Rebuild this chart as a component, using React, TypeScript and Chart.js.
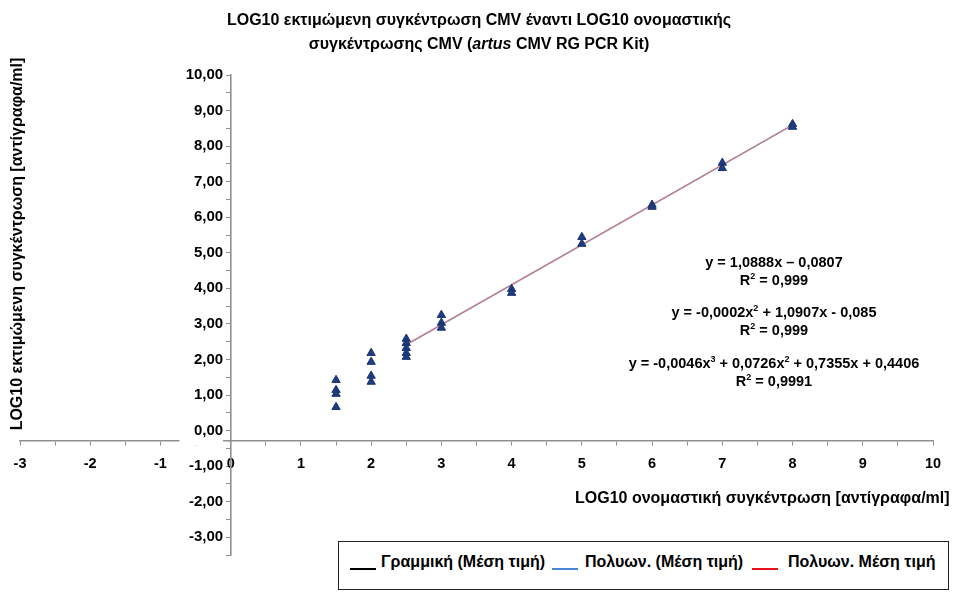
import React, { useEffect, useRef } from "react";
import { Chart, registerables } from "chart.js";

Chart.register(...registerables);

// ---- data ----
const nominalLog = [1.5, 2, 2.5, 3, 4, 5, 6, 7, 8];
const measuredLog = [
  [1.42, 1.14, 1.03, 0.66],
  [2.18, 1.93, 1.54, 1.37],
  [2.58, 2.46, 2.32, 2.18, 2.07],
  [3.25, 3.03, 2.89],
  [3.98, 3.87],
  [5.44, 5.25],
  [6.35, 6.29],
  [7.53, 7.38],
  [8.62, 8.54],
];
const trendX = [2.5, 8];
const linearFit = [2.41, 8.59];
const poly2Fit = [2.41, 8.59];
const poly3Fit = [2.42, 8.6];

const xTickLabels = ["-3", "-2", "-1", "0", "1", "2", "3", "4", "5", "6", "7", "8", "9", "10"];
const yTickLabels = [
  "-3,00", "-2,00", "-1,00", "0,00", "1,00", "2,00", "3,00",
  "4,00", "5,00", "6,00", "7,00", "8,00", "9,00", "10,00",
];
const legendLabels = ["Γραμμική (Μέση τιμή)", "Πολυων. (Μέση τιμή)", "Πολυων. Μέση τιμή"];
const legendColors = ["#000000", "#4a86d8", "#e8141b"];
const equations = [
  ["y = 1,0888x – 0,0807", "0,999"],
  ["y = -0,0002x² + 1,0907x - 0,085", "0,999"],
  ["y = -0,0046x³ + 0,0726x² + 0,7355x + 0,4406", "0,9991"],
];

const FONT = '"Liberation Sans", Arial, Helvetica, sans-serif';
const AXIS_COLOR = "#8f8f8f";

const axisGapPlugin = {
  id: "axisGap",
  afterDraw(chart: any) {
    const xs = chart.scales.x;
    const ys = chart.scales.y;
    const ctx = chart.ctx;
    const py = ys.getPixelForValue(-0.3);
    const x1 = xs.getPixelForValue(-0.73);
    const x2 = xs.getPixelForValue(-0.11);
    ctx.save();
    ctx.fillStyle = "#ffffff";
    ctx.fillRect(x1, py - 4, x2 - x1, 8);
    ctx.restore();
  },
};

const supStyle = { fontSize: "9px", verticalAlign: "6px", lineHeight: 0 } as const;

function renderEq(text: string) {
  const parts: any[] = [];
  const re = /([²³])/g;
  let last = 0;
  let m: RegExpExecArray | null;
  let k = 0;
  while ((m = re.exec(text))) {
    parts.push(text.slice(last, m.index));
    parts.push(
      <sup key={k++} style={supStyle}>
        {m[1] === "²" ? "2" : "3"}
      </sup>
    );
    last = m.index + 1;
  }
  parts.push(text.slice(last));
  return parts;
}

export default function App() {
  const canvasRef = useRef<HTMLCanvasElement | null>(null);

  useEffect(() => {
    if (!canvasRef.current) return;
    const scatterData: { x: number; y: number }[] = [];
    nominalLog.forEach((nx, i) => {
      measuredLog[i].forEach((v) => scatterData.push({ x: nx, y: v }));
    });
    const fit = (arr: number[]) => trendX.map((x, i) => ({ x, y: arr[i] }));

    const chart = new Chart(canvasRef.current, {
      type: "scatter",
      data: {
        datasets: [
          {
            label: "Μέση τιμή",
            data: scatterData,
            pointStyle: "triangle",
            pointRadius: 4.8,
            backgroundColor: "#1f3c7e",
            borderColor: "#1a336f",
            borderWidth: 1,
          },
          {
            type: "line",
            label: legendLabels[0],
            data: fit(linearFit),
            borderColor: "rgba(90,40,90,0.3)",
            borderWidth: 1.3,
            pointRadius: 0,
            showLine: true,
          } as any,
          {
            type: "line",
            label: legendLabels[1],
            data: fit(poly2Fit),
            borderColor: "rgba(90,120,200,0.2)",
            borderWidth: 1.2,
            pointRadius: 0,
            showLine: true,
          } as any,
          {
            type: "line",
            label: legendLabels[2],
            data: fit(poly3Fit),
            borderColor: "rgba(232,150,150,0.8)",
            borderWidth: 1.5,
            pointRadius: 0,
            showLine: true,
          } as any,
        ],
      },
      options: {
        animation: false,
        responsive: false,
        devicePixelRatio: 1,
        layout: { padding: { left: 20, right: 21, top: 75, bottom: 37 } },
        plugins: {
          legend: { display: false },
          title: { display: false },
          tooltip: { enabled: false },
        },
        scales: {
          x: {
            type: "linear",
            min: -3,
            max: 10,
            position: { y: -0.3 } as any,
            ticks: {
              stepSize: 0.5,
              autoSkip: false,
              maxRotation: 0,
              padding: 10,
              color: "#000",
              font: { family: FONT, size: 14.5, weight: "bold" },
              callback: (v: any) =>
                Number.isInteger(v) ? xTickLabels[(v as number) + 3] : "",
            },
            grid: {
              drawOnChartArea: false,
              drawTicks: true,
              tickLength: 4,
              color: AXIS_COLOR,
            },
            border: { color: AXIS_COLOR, width: 1.6 },
          },
          y: {
            type: "linear",
            min: -3.5,
            max: 10,
            position: { x: 0 } as any,
            ticks: {
              stepSize: 0.5,
              autoSkip: false,
              padding: 9,
              color: "#000",
              font: { family: FONT, size: 15, weight: "bold" },
              callback: (v: any) =>
                Number.isInteger(v) ? yTickLabels[(v as number) + 3] + "\u2002" : "",
            },
            grid: {
              drawOnChartArea: false,
              drawTicks: true,
              tickLength: 4,
              color: AXIS_COLOR,
            },
            border: { color: AXIS_COLOR, width: 1.6 },
          },
        },
      },
      plugins: [axisGapPlugin],
    });
    return () => chart.destroy();
  }, []);

  const eqTops = [262, 312, 363];

  return (
    <div
      style={{
        position: "fixed",
        left: 0,
        top: 0,
        width: 954,
        height: 592,
        background: "#fff",
        fontFamily: FONT,
        color: "#000",
        overflow: "hidden",
      }}
    >
      <canvas ref={canvasRef} width={954} height={592} style={{ position: "absolute", left: 0, top: 0 }} />

      {/* title */}
      <div
        style={{
          position: "absolute",
          left: 0,
          top: 8,
          width: 958,
          textAlign: "center",
          fontWeight: "bold",
          fontSize: "16px",
          lineHeight: "24px",
        }}
      >
        LOG10 εκτιμώμενη συγκέντρωση CMV έναντι LOG10 ονομαστικής
        <br />
        συγκέντρωσης CMV (<i>artus</i> CMV RG PCR Kit)
      </div>

      {/* y axis title */}
      <div
        style={{
          position: "absolute",
          left: 17 - 220,
          top: 244 - 10,
          width: 440,
          height: 20,
          lineHeight: "20px",
          textAlign: "center",
          fontWeight: "bold",
          fontSize: "16px",
          whiteSpace: "nowrap",
          transform: "rotate(-90deg)",
          transformOrigin: "50% 50%",
        }}
      >
        LOG10 εκτιμώμενη συγκέντρωση [αντίγραφα/ml]
      </div>

      {/* x axis title */}
      <div
        style={{
          position: "absolute",
          left: 575,
          top: 488,
          lineHeight: "20px",
          fontWeight: "bold",
          fontSize: "16px",
          whiteSpace: "nowrap",
        }}
      >
        LOG10 ονομαστική συγκέντρωση [αντίγραφα/ml]
      </div>

      {/* trendline equations */}
      {equations.map((eq, i) => (
        <div
          key={i}
          style={{
            position: "absolute",
            left: 774 - 220,
            top: eqTops[i] - 9,
            width: 440,
            textAlign: "center",
            fontWeight: "bold",
            fontSize: "14.5px",
            lineHeight: "18px",
            whiteSpace: "nowrap",
          }}
        >
          <div>{renderEq(eq[0])}</div>
          <div>
            R<sup style={supStyle}>2</sup> = {eq[1]}
          </div>
        </div>
      ))}

      {/* legend */}
      <div
        style={{
          position: "absolute",
          left: 338,
          top: 541,
          width: 611,
          height: 49,
          boxSizing: "border-box",
          border: "1.5px solid #222",
          background: "#fff",
        }}
      >
        {legendLabels.map((lab, i) => {
          const sampleLeft = [11, 213, 413][i];
          const textLeft = [42, 246, 449][i];
          return (
            <React.Fragment key={i}>
              <div
                style={{
                  position: "absolute",
                  left: sampleLeft,
                  top: 26,
                  width: 26,
                  height: 0,
                  borderBottom: `2px solid ${legendColors[i]}`,
                }}
              />
              <div
                style={{
                  position: "absolute",
                  left: textLeft,
                  top: 10,
                  fontWeight: "bold",
                  fontSize: "16px",
                  lineHeight: "20px",
                  whiteSpace: "nowrap",
                }}
              >
                {lab}
              </div>
            </React.Fragment>
          );
        })}
      </div>
    </div>
  );
}
